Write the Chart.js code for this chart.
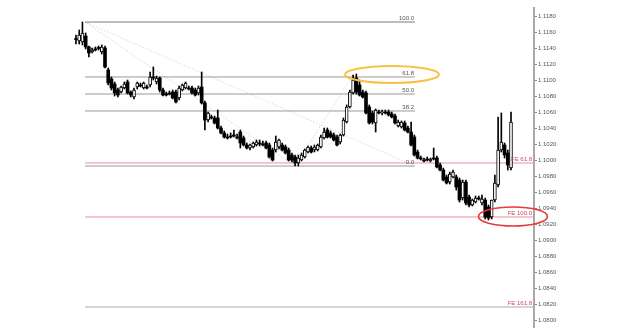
<!DOCTYPE html>
<html>
<head>
<meta charset="utf-8">
<script src="https://cdn.jsdelivr.net/npm/chart.js@4.4.0/dist/chart.umd.min.js"></script>
<style>
  html, body { margin: 0; padding: 0; background: #fff; }
  #wrap { width: 624px; height: 333px; }
</style>
</head>
<body>
<div id="wrap"><canvas id="chartContainer" width="624" height="333"></canvas></div>
<script>
// candle data (price)
const opens = [
  1.11513, 1.11488, 1.11475, 1.11550, 1.11413, 1.11350, 1.11388, 1.11400, 1.11350, 1.11400,
  1.11125, 1.11013, 1.10950, 1.10875, 1.10850, 1.10900, 1.10975, 1.10850, 1.10788, 1.10913,
  1.10938, 1.10900, 1.10913, 1.10938, 1.11038, 1.10975, 1.11025, 1.10875, 1.10825, 1.10838,
  1.10850, 1.10850, 1.10775, 1.10875, 1.10900, 1.10900, 1.10900, 1.10875, 1.10838, 1.10913,
  1.10713, 1.10500, 1.10538, 1.10525, 1.10525, 1.10400, 1.10338, 1.10288, 1.10300, 1.10313,
  1.10288, 1.10350, 1.10275, 1.10188, 1.10150, 1.10163, 1.10188, 1.10213, 1.10200, 1.10213,
  1.10188, 1.10125, 1.10125, 1.10163, 1.10188, 1.10163, 1.10125, 1.10063, 1.10038, 1.09963,
  1.10000, 1.10038, 1.10100, 1.10150, 1.10125, 1.10125, 1.10163, 1.10275, 1.10375, 1.10338,
  1.10313, 1.10288, 1.10225, 1.10313, 1.10475, 1.10663, 1.10838, 1.11025, 1.10938, 1.10850,
  1.10838, 1.10663, 1.10588, 1.10463, 1.10600, 1.10588, 1.10600, 1.10600, 1.10575, 1.10550,
  1.10425, 1.10413, 1.10463, 1.10400, 1.10350, 1.10288, 1.10100, 1.10025, 1.10000, 1.10013,
  1.09988, 1.10025, 1.10025, 1.09938, 1.09875, 1.09788, 1.09725, 1.09788, 1.09788, 1.09750,
  1.09525, 1.09725, 1.09538, 1.09438, 1.09475, 1.09525, 1.09463, 1.09500, 1.09413, 1.09288,
  1.09500, 1.09688, 1.10125, 1.10188, 1.10088, 1.09900
];
const highs = [
  1.11563, 1.11625, 1.11725, 1.11588, 1.11425, 1.11400, 1.11413, 1.11425, 1.11438, 1.11425,
  1.11150, 1.11038, 1.10975, 1.10900, 1.10925, 1.10975, 1.11000, 1.10863, 1.10900, 1.10975,
  1.10963, 1.10975, 1.10938, 1.11100, 1.11163, 1.11050, 1.11038, 1.10900, 1.10850, 1.10863,
  1.10875, 1.10875, 1.10925, 1.10950, 1.10975, 1.10925, 1.10925, 1.10900, 1.10925, 1.11100,
  1.10738, 1.10600, 1.10563, 1.10550, 1.10625, 1.10425, 1.10363, 1.10325, 1.10338, 1.10375,
  1.10325, 1.10375, 1.10300, 1.10213, 1.10200, 1.10225, 1.10250, 1.10250, 1.10238, 1.10238,
  1.10213, 1.10150, 1.10300, 1.10263, 1.10213, 1.10188, 1.10150, 1.10088, 1.10063, 1.10063,
  1.10088, 1.10138, 1.10175, 1.10175, 1.10188, 1.10200, 1.10313, 1.10400, 1.10400, 1.10363,
  1.10338, 1.10313, 1.10325, 1.10525, 1.10688, 1.10875, 1.11063, 1.11075, 1.11000, 1.10875,
  1.10863, 1.10688, 1.10613, 1.10638, 1.10625, 1.10625, 1.10625, 1.10625, 1.10600, 1.10575,
  1.10500, 1.10488, 1.10488, 1.10425, 1.10475, 1.10313, 1.10125, 1.10050, 1.10025, 1.10038,
  1.10025, 1.10150, 1.10050, 1.09963, 1.09900, 1.09813, 1.09850, 1.09875, 1.09813, 1.09775,
  1.09750, 1.09750, 1.09563, 1.09513, 1.09550, 1.09550, 1.09563, 1.09525, 1.09438, 1.09500,
  1.09813, 1.10538, 1.10588, 1.10213, 1.10125, 1.10600
];
const lows = [
  1.11450, 1.11450, 1.11438, 1.11388, 1.11288, 1.11338, 1.11363, 1.11375, 1.11325, 1.11150,
  1.10938, 1.10875, 1.10800, 1.10788, 1.10838, 1.10888, 1.10825, 1.10788, 1.10763, 1.10888,
  1.10913, 1.10888, 1.10888, 1.10913, 1.11000, 1.10950, 1.10850, 1.10800, 1.10800, 1.10813,
  1.10763, 1.10713, 1.10750, 1.10863, 1.10888, 1.10875, 1.10825, 1.10800, 1.10813, 1.10700,
  1.10375, 1.10475, 1.10513, 1.10450, 1.10388, 1.10325, 1.10275, 1.10263, 1.10275, 1.10288,
  1.10263, 1.10150, 1.10175, 1.10138, 1.10125, 1.10150, 1.10175, 1.10175, 1.10175, 1.10138,
  1.10025, 1.09988, 1.10100, 1.10138, 1.10113, 1.10075, 1.09988, 1.09975, 1.09925, 1.09925,
  1.09988, 1.10025, 1.10088, 1.10088, 1.10100, 1.10113, 1.10150, 1.10263, 1.10275, 1.10275,
  1.10238, 1.10175, 1.10200, 1.10300, 1.10463, 1.10650, 1.10825, 1.10825, 1.10800, 1.10775,
  1.10575, 1.10450, 1.10450, 1.10350, 1.10575, 1.10563, 1.10575, 1.10550, 1.10525, 1.10450,
  1.10413, 1.10400, 1.10363, 1.10338, 1.10175, 1.10050, 1.10013, 1.10000, 1.09975, 1.09988,
  1.09975, 1.10000, 1.09900, 1.09863, 1.09738, 1.09700, 1.09700, 1.09775, 1.09625, 1.09475,
  1.09500, 1.09438, 1.09413, 1.09425, 1.09463, 1.09500, 1.09438, 1.09263, 1.09250, 1.09263,
  1.09475, 1.09663, 1.10100, 1.10025, 1.09875, 1.09875
];
const closes = [
  1.11506, 1.11563, 1.11588, 1.11413, 1.11338, 1.11375, 1.11375, 1.11394, 1.11413, 1.11163,
  1.10963, 1.10900, 1.10838, 1.10813, 1.10913, 1.10950, 1.10838, 1.10813, 1.10875, 1.10963,
  1.10925, 1.10963, 1.10900, 1.11038, 1.11025, 1.11025, 1.10875, 1.10813, 1.10813, 1.10825,
  1.10775, 1.10725, 1.10900, 1.10938, 1.10963, 1.10888, 1.10838, 1.10813, 1.10900, 1.10713,
  1.10500, 1.10588, 1.10525, 1.10463, 1.10400, 1.10338, 1.10288, 1.10275, 1.10288, 1.10300,
  1.10275, 1.10213, 1.10188, 1.10150, 1.10188, 1.10213, 1.10225, 1.10200, 1.10188, 1.10150,
  1.10038, 1.10000, 1.10225, 1.10250, 1.10125, 1.10088, 1.10000, 1.10000, 1.09963, 1.10025,
  1.10063, 1.10125, 1.10163, 1.10100, 1.10163, 1.10188, 1.10288, 1.10350, 1.10288, 1.10288,
  1.10250, 1.10188, 1.10313, 1.10500, 1.10663, 1.10850, 1.11000, 1.10850, 1.10813, 1.10788,
  1.10588, 1.10463, 1.10475, 1.10625, 1.10588, 1.10600, 1.10588, 1.10563, 1.10538, 1.10463,
  1.10475, 1.10475, 1.10375, 1.10350, 1.10188, 1.10063, 1.10025, 1.10013, 1.09988, 1.10000,
  1.10013, 1.10013, 1.09913, 1.09875, 1.09750, 1.09713, 1.09825, 1.09850, 1.09663, 1.09500,
  1.09725, 1.09463, 1.09438, 1.09500, 1.09525, 1.09513, 1.09513, 1.09288, 1.09275, 1.09500,
  1.09713, 1.10125, 1.10225, 1.10063, 1.09938, 1.10475
];

const yTicks = [
  1.0800, 1.0820, 1.0840, 1.0860, 1.0880, 1.0900, 1.0920, 1.0940, 1.0960, 1.0980,
  1.1000, 1.1020, 1.1040, 1.1060, 1.1080, 1.1100, 1.1120, 1.1140, 1.1160, 1.1180
];

// fibo retracement + expansion levels
const fibLabels = ['100.0', '61.8', '50.0', '38.2', '0.0'];
const fibValues = [1.11725, 1.11038, 1.10825, 1.10613, 1.09925];
const feLabels = ['FE 61.8', 'FE 100.0', 'FE 161.8'];
const feValues = [1.09963, 1.09288, 1.08163];
const feColors = ['#f08c9c', '#f08c9c', '#b4a8ab'];

// swing points: [candle index, price]
const pointA = [2, 1.11725];
const pointB = [68, 1.09925];
const pointC = [86, 1.11063];

const spacing = 435 / 135;          // px per candle
const xMin = -76 / spacing;
const xMax = (534 - 76) / spacing;
const fibStart = (85 - 76) / spacing;
const fibEnd = (415 - 76) / spacing;

const idx = opens.map((_, i) => i);
const isUp = idx.map(i => closes[i] > opens[i]);

const bodies = idx.map(i => ({x: i, y: [opens[i], closes[i]]}));
const wicks = idx.map(i => ({x: i, y: [lows[i], highs[i]]}));

function hline(v, x0, x1) {
  return [{x: x0, y: v}, {x: x1, y: v}];
}

const lineSets = [];
fibValues.forEach((v, i) => {
  lineSets.push({
    type: 'line', data: hline(v, fibStart, fibEnd),
    borderColor: i === 0 ? '#7a7a7a' : '#9a9a9a', borderWidth: 1,
    pointRadius: 0
  });
});
feValues.forEach((v, i) => {
  lineSets.push({
    type: 'line', data: hline(v, fibStart, xMax),
    borderColor: feColors[i], borderWidth: 1, pointRadius: 0
  });
});
// dotted swing lines
lineSets.push({
  type: 'line', data: [{x: fibStart, y: pointA[1]}, {x: pointB[0], y: pointB[1]}, {x: pointC[0], y: pointC[1]}],
  borderColor: '#f3b49c', borderWidth: 1, borderDash: [1, 2], pointRadius: 0
});
lineSets.push({
  type: 'line', data: [{x: fibStart, y: pointA[1]}, {x: fibEnd, y: fibValues[4]}],
  borderColor: '#c8c8c8', borderWidth: 1, borderDash: [1, 2], pointRadius: 0
});

const levelText = {
  id: 'levelText',
  afterDatasetsDraw(chart) {
    const {ctx, chartArea} = chart;
    const x = chart.scales.x, y = chart.scales.y;
    const fx = x.getPixelForValue(fibEnd);
    ctx.save();
    ctx.font = '6px "Liberation Sans"';
    ctx.textAlign = 'right';
    ctx.textBaseline = 'bottom';
    ctx.fillStyle = '#555';
    fibLabels.forEach((t, i) => ctx.fillText(t, fx - 1, y.getPixelForValue(fibValues[i]) - 1));
    ctx.fillStyle = '#d2456a';
    feLabels.forEach((t, i) => ctx.fillText(t, chartArea.right - 2, y.getPixelForValue(feValues[i]) - 1));

    // highlight rings
    ctx.lineWidth = 2;
    ctx.strokeStyle = '#f6c140';
    ctx.beginPath();
    ctx.ellipse(fx - 23, y.getPixelForValue(fibValues[1]) - 2.5, 47, 8.5, 0, 0, Math.PI * 2);
    ctx.stroke();
    ctx.lineWidth = 1.6;
    ctx.strokeStyle = '#e8393f';
    ctx.beginPath();
    ctx.ellipse(chartArea.right - 21, y.getPixelForValue(feValues[1]) - 0.5, 34.5, 9.5, 0, 0, Math.PI * 2);
    ctx.stroke();
    ctx.restore();
  }
};

const ctx = document.getElementById('chartContainer').getContext('2d');
new Chart(ctx, {
  type: 'bar',
  data: {
    datasets: [
      {
        data: bodies,
        grouped: false,
        barThickness: 3,
        minBarLength: 1,
        backgroundColor: idx.map(i => isUp[i] ? '#ffffff' : '#000000'),
        borderColor: '#000000',
        borderWidth: idx.map(i => isUp[i] ? 1 : 0),
        borderSkipped: false
      },
      {
        data: wicks,
        grouped: false,
        barThickness: 1,
        backgroundColor: '#000000'
      },
      ...lineSets
    ]
  },
  options: {
    responsive: false,
    animation: false,
    devicePixelRatio: 1,
    layout: {padding: {top: 8, bottom: 6, left: 0, right: 0}},
    plugins: {legend: {display: false}, tooltip: {enabled: false}},
    scales: {
      x: {type: 'linear', min: xMin, max: xMax, offset: false, display: false},
      y: {
        position: 'right',
        min: 1.07913,
        max: 1.1190,
        afterBuildTicks: s => { s.ticks = yTicks.map(v => ({value: v})); },
        afterFit: s => { s.width = 90; },
        border: {display: true, color: '#a8a8a8', width: 2},
        grid: {drawOnChartArea: false, drawTicks: true, tickLength: 3, color: '#888'},
        ticks: {
          padding: 1,
          color: '#555',
          font: {family: 'Liberation Sans', size: 6},
          callback: v => v.toFixed(4)
        }
      }
    }
  },
  plugins: [levelText]
});
</script>
</body>
</html>
